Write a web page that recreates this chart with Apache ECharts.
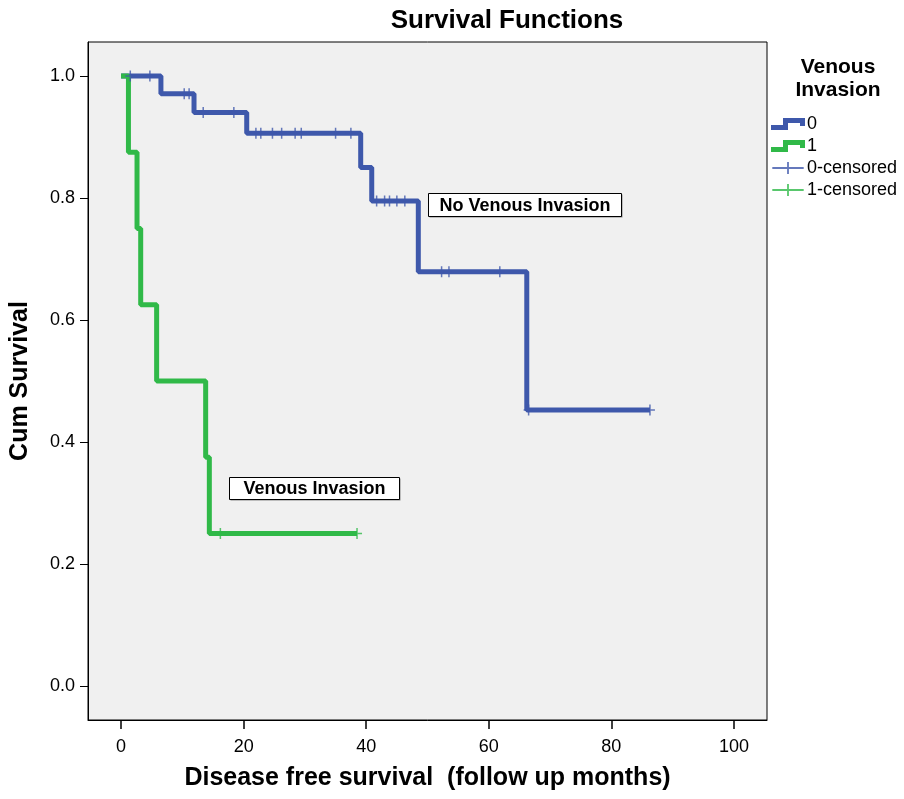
<!DOCTYPE html>
<html>
<head>
<meta charset="utf-8">
<script src="https://cdn.jsdelivr.net/npm/echarts@6/dist/echarts.min.js"></script>
<style>html,body{margin:0;padding:0;background:#fff;}#c{width:904px;height:799px;}</style>
</head>
<body>
<div id="c"></div>
<script>
// ---- data ----
const group0Times = [0, 6.5, 11.9, 20.5, 39.1, 40.9, 48.5, 66.2, 86.3];
const group0Surv  = [1.0, 0.971, 0.940, 0.906, 0.850, 0.795, 0.679, 0.4525, 0.4525];
const group0CensorTimes = [1.5, 4.7, 10.3, 11.1, 13.4, 18.4, 22.0, 22.8, 24.7, 26.2, 28.4, 29.4, 35.0, 37.5, 41.7, 43.0, 43.8, 45.0, 46.3, 52.3, 53.5, 61.8, 66.5, 86.3];
const group0CensorSurv  = [1.0, 1.0, 0.971, 0.971, 0.940, 0.940, 0.906, 0.906, 0.906, 0.906, 0.906, 0.906, 0.906, 0.906, 0.795, 0.795, 0.795, 0.795, 0.795, 0.679, 0.679, 0.679, 0.4525, 0.4525];

const group1Times = [0, 1.2, 2.6, 3.2, 5.8, 13.8, 14.4, 38.5];
const group1Surv  = [1.0, 0.875, 0.75, 0.625, 0.5, 0.375, 0.25, 0.25];
const group1CensorTimes = [16.2, 38.5];
const group1CensorSurv  = [0.25, 0.25];

const xTicks = [0, 20, 40, 60, 80, 100];
const yTicks = [0.0, 0.2, 0.4, 0.6, 0.8, 1.0];
const seriesNames = ['0', '1', '0-censored', '1-censored'];

// ---- styles ----
const BLUE = '#3e58ab';
const GREEN = '#30b948';
const FONT = '"Liberation Sans", Arial, sans-serif';
const stepIcon = 'path://M0,7 L12,7 L12,0 L34,0 L34,8 L29,8 L29,5 L17,5 L17,12 L0,12 Z';
const plusIcon = 'path://M0,5.4 L16,5.4 L16,0 L18,0 L18,5.4 L34,5.4 L34,7.6 L18,7.6 L18,13 L16,13 L16,7.6 L0,7.6 Z';
const censorSymbol = 'path://M0,9.5 H8.5 V0 H11.5 V9.5 H20 V12.5 H11.5 V22 H8.5 V12.5 H0 Z';

const zip = (a, b) => a.map((v, i) => [v, b[i]]);

const chart = echarts.init(document.getElementById('c'), null, {renderer: 'canvas'});
chart.setOption({
  animation: false,
  backgroundColor: '#ffffff',
  textStyle: {fontFamily: FONT},
  title: [
    {text: 'Survival Functions', left: 507, top: 8, textAlign: 'center', padding: 0,
     textStyle: {fontFamily: FONT, fontSize: 26, fontWeight: 'bold', color: '#000'}},
    {text: 'Venous\nInvasion', left: 838, top: 56, textAlign: 'center', padding: 0,
     textStyle: {fontFamily: FONT, fontSize: 21, fontWeight: 'bold', color: '#000', lineHeight: 23}}
  ],
  legend: {
    orient: 'vertical', left: 771, top: 115, itemWidth: 34, itemHeight: 12, itemGap: 4, padding: 0,
    selectedMode: false,
    textStyle: {fontFamily: FONT, fontSize: 18, color: '#000', padding: [0, 0, 0, -3]},
    data: [
      {name: seriesNames[0], icon: stepIcon},
      {name: seriesNames[1], icon: stepIcon},
      {name: seriesNames[2], icon: plusIcon},
      {name: seriesNames[3], icon: plusIcon}
    ]
  },
  grid: {left: 88, right: 137, top: 42, bottom: 79, show: true, backgroundColor: '#f0f0f0', borderColor: '#000', borderWidth: 1},
  xAxis: {
    type: 'value', min: -5.4, max: 105.4,
    name: 'Disease free survival  (follow up months)', nameLocation: 'middle', nameGap: 46,
    nameTextStyle: {fontFamily: FONT, fontSize: 25, fontWeight: 'bold', color: '#000'},
    axisLine: {show: true, onZero: false, lineStyle: {color: '#000', width: 1}},
    axisTick: {show: true, inside: false, length: 9, customValues: xTicks, lineStyle: {color: '#000', width: 1.5}},
    axisLabel: {customValues: xTicks, margin: 18, fontFamily: FONT, fontSize: 18, color: '#000'},
    splitLine: {show: false}
  },
  yAxis: {
    type: 'value', min: -0.0557, max: 1.0557,
    name: 'Cum Survival', nameLocation: 'middle', nameGap: 55, nameRotate: 90,
    nameTextStyle: {fontFamily: FONT, fontSize: 25, fontWeight: 'bold', color: '#000'},
    axisLine: {show: true, onZero: false, lineStyle: {color: '#000', width: 1}},
    axisTick: {show: true, inside: false, length: 8, customValues: yTicks, lineStyle: {color: '#000', width: 1}},
    axisLabel: {customValues: yTicks, margin: 13, fontFamily: FONT, fontSize: 18, color: '#000',
                formatter: v => v.toFixed(1)},
    splitLine: {show: false}
  },
  series: [
    {name: seriesNames[0], type: 'line', step: 'end', showSymbol: false, symbol: 'none',
     color: BLUE, lineStyle: {color: BLUE, width: 5}, data: zip(group0Times, group0Surv), z: 2},
    {name: seriesNames[1], type: 'line', step: 'end', showSymbol: false, symbol: 'none',
     color: GREEN, lineStyle: {color: GREEN, width: 5}, data: zip(group1Times, group1Surv), z: 3},
    {name: seriesNames[2], type: 'scatter', symbol: censorSymbol, symbolSize: [10, 11],
     color: BLUE, itemStyle: {color: BLUE}, data: zip(group0CensorTimes, group0CensorSurv), z: 4},
    {name: seriesNames[3], type: 'scatter', symbol: censorSymbol, symbolSize: [10, 11],
     color: GREEN, itemStyle: {color: GREEN}, data: zip(group1CensorTimes, group1CensorSurv), z: 5}
  ],
  graphic: [
    {type: 'group', left: 428, top: 193, z: 100, children: [
      {type: 'rect', shape: {x: 1, y: 1, width: 193, height: 23}, style: {fill: '#888'}},
      {type: 'rect', shape: {x: 0, y: 0, width: 193, height: 23}, style: {fill: '#fff', stroke: '#000', lineWidth: 1}},
      {type: 'text', x: 96.5, y: 12.5, style: {text: 'No Venous Invasion', fontFamily: FONT, fontSize: 18, fontWeight: 'bold', fill: '#000', align: 'center', verticalAlign: 'middle'}}
    ]},
    {type: 'group', left: 229, top: 477, z: 100, children: [
      {type: 'rect', shape: {x: 1, y: 1, width: 170, height: 22}, style: {fill: '#888'}},
      {type: 'rect', shape: {x: 0, y: 0, width: 170, height: 22}, style: {fill: '#fff', stroke: '#000', lineWidth: 1}},
      {type: 'text', x: 85, y: 12, style: {text: 'Venous Invasion', fontFamily: FONT, fontSize: 18, fontWeight: 'bold', fill: '#000', align: 'center', verticalAlign: 'middle'}}
    ]}
  ]
});
</script>
</body>
</html>
